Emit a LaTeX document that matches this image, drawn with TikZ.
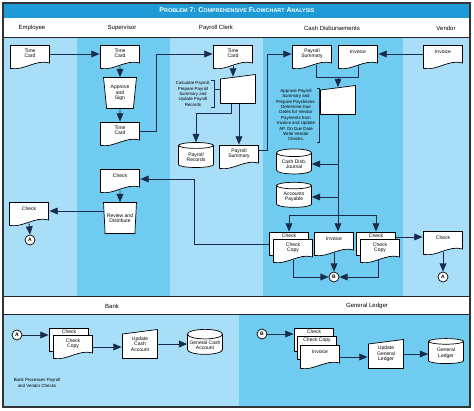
\documentclass[tikz,border=0pt]{standalone}
\usepackage{fontspec}
\setmainfont{Liberation Sans}
\usepackage{tikz}
\usepackage{xcolor}
\usetikzlibrary{arrows,shapes.geometric}

\definecolor{lanelight}{RGB}{168,222,247}
\definecolor{lanedark}{RGB}{112,203,241}
\definecolor{titleblue}{RGB}{30,155,215}
\definecolor{flowline}{RGB}{25,45,75}

\newcommand{\boxfont}{\fontsize{5}{5.5}\selectfont}
\newcommand{\notefont}{\fontsize{4.4}{5.4}\selectfont}
\newcommand{\headfont}{\fontsize{6}{7}\selectfont}
\newcommand{\capsmall}[1]{{\fontsize{5.4}{6}\selectfont #1}}

\begin{document}
\begin{tikzpicture}[x=1pt,y=-1pt,line width=0.9pt,
    docbox/.style={rectangle,minimum width=40pt,minimum height=24pt,inner sep=1pt,align=center,font=\boxfont,text depth=#1,
      path picture={
        \draw [draw=black,fill=white,line width=0.7pt]
          ([xshift=0.5pt,yshift=-0.5pt]path picture bounding box.north west)
          -- ([xshift=-0.5pt,yshift=-0.5pt]path picture bounding box.north east)
          -- ([xshift=-0.5pt,yshift=6pt]path picture bounding box.south east)
          .. controls ([xshift=-14pt,yshift=10pt]path picture bounding box.south east)
          and ([xshift=14pt,yshift=-2pt]path picture bounding box.south west)
          .. ([xshift=0.5pt,yshift=0.6pt]path picture bounding box.south west) -- cycle;
      }},
    docbox/.default=11pt,
    slantbox/.style={rectangle,minimum width=36pt,minimum height=30pt,inner sep=1pt,align=center,font=\boxfont,
      path picture={
        \draw [draw=black,fill=white,line width=0.7pt]
          ([xshift=0.5pt,yshift=-5pt]path picture bounding box.north west)
          -- ([xshift=-0.5pt,yshift=-0.5pt]path picture bounding box.north east)
          -- ([xshift=-0.5pt,yshift=0.5pt]path picture bounding box.south east)
          -- ([xshift=0.5pt,yshift=0.5pt]path picture bounding box.south west) -- cycle;
      }},
    trapbox/.style={trapezium,shape border rotate=180,trapezium left angle=82,trapezium right angle=82,trapezium stretches=true,
      minimum width=33pt,minimum height=31pt,inner sep=0.5pt,align=center,font=\boxfont,draw=black,fill=white,line width=0.7pt},
    store/.style={cylinder,shape border rotate=90,aspect=0.3,minimum width=35pt,minimum height=25pt,inner sep=0.5pt,
      align=center,font=\boxfont,draw=black,fill=white,line width=0.7pt},
    conn/.style={circle,draw=black,fill=white,minimum size=10pt,inner sep=0pt,font=\boxfont\bfseries,line width=0.7pt},
    note/.style={align=center,font=\notefont,inner sep=0.5pt},
    head/.style={font=\headfont},
    flow/.style={draw=flowline,line width=0.9pt},
    bracket/.style={draw=flowline,line width=0.6pt}]
      \fill [white] (0,0) rectangle (474,411);
      \useasboundingbox (0,0) rectangle (474,411);

      \fill [titleblue] (3,3) rectangle (470,18);
      \fill [lanelight] (3,38) rectangle (77,297);
      \fill [lanedark] (77,38) rectangle (170,297);
      \fill [lanelight] (170,38) rectangle (263,297);
      \fill [lanedark] (263,38) rectangle (403,297);
      \fill [lanelight] (403,38) rectangle (470,297);
      \fill [lanelight] (3,315) rectangle (239,407);
      \fill [lanedark] (239,315) rectangle (470,407);
      \draw [line width=1pt,black!85] (3,38) -- (470,38);
      \draw [line width=1pt,black!85] (3,297) -- (470,297);
      \draw [line width=1pt,black!85] (3,315) -- (470,315);
      \draw [line width=1.4pt,black!80] (3,3) rectangle (470,407);

      \node [text=white,font=\fontsize{7}{8}\selectfont\bfseries] (title) at (237,10.5)
        {P\capsmall{ROBLEM} 7: C\capsmall{OMPREHENSIVE} F\capsmall{LOWCHART} A\capsmall{NALYSIS}};
      \node [head] (hEmp) at (32,28) {Employee};
      \node [head] (hSup) at (122,28) {Supervisor};
      \node [head] (hPay) at (216,28) {Payroll Clerk};
      \node [head] (hCash) at (332,28) {Cash Disbursements};
      \node [head] (hVend) at (446,28) {Vendor};
      \node [head] (hBank) at (112,306) {Bank};
      \node [head] (hGL) at (367,306) {General Ledger};

      \node [docbox=8pt] (empTC) at (30,57) {Time\\Card};
      \node [docbox=8pt] (supTC) at (120,57) {Time\\Card};
      \node [trapbox] (approve) at (120,93) {Approve\\and\\Sign};
      \node [docbox=8pt] (supTC2) at (120,134) {Time\\Card};
      \node [docbox=8pt] (payTC) at (233,57) {Time\\Card};
      \node [slantbox] (payProc) at (238,89) {};
      \node [note] (payNote) at (193,94) {Calculate Payroll,\\Prepare Payroll\\Summary and\\Update Payroll\\Records};
      \node [store] (payRec) at (196,157) {Payroll\\Records};
      \node [docbox=8pt] (paySum) at (239,157) {Payroll\\Summary};

      \node [docbox=8pt] (cashPS) at (312,57) {Payroll\\Summary};
      \node [docbox] (cashInv) at (358,57) {Invoice};
      \node [docbox] (vendInv) at (443,57) {Invoice};
      \node [slantbox] (cashProc) at (338,100) {};
      \node [note] (cashNote) at (296,115) {Approve Payroll\\Summary and\\Prepare Paychecks.\\Determine Due\\Dates for Vendor\\Payments from\\Invoice and Update\\AP. On Due Date\\Write Vendor\\Checks.};
      \node [store] (cdj) at (294,164) {Cash Disb.\\Journal};
      \node [store] (ap) at (294,197) {Accounts\\Payable};
      \node [docbox=17pt] (chkL) at (289,244) {Check};
      \node [docbox=8pt] (copyL) at (293,251) {Check\\Copy};
      \node [docbox] (cashInv2) at (334,244) {Invoice};
      \node [docbox=17pt] (chkR) at (376,244) {Check};
      \node [docbox=8pt] (copyR) at (380,251) {Check\\Copy};
      \node [docbox] (vendChk) at (443,243) {Check};
      \node [conn] (conA2) at (443,277) {A};
      \node [conn] (conB1) at (334,277) {B};

      \node [docbox] (supChk) at (120,181) {Check};
      \node [trapbox] (review) at (120,218) {Review and\\Distribute};
      \node [docbox] (empChk) at (29,214) {Check};
      \node [conn] (conA1) at (30,240) {A};

      \node [conn] (conA3) at (17,335) {A};
      \node [docbox=17pt] (bankChk) at (69,340) {Check};
      \node [docbox=8pt] (bankCopy) at (73,347) {Check\\Copy};
      \node [slantbox] (updCash) at (140,344) {Update\\Cash\\Account};
      \node [store] (gca) at (205,345) {General Cash\\Account};
      \node [note] (bankNote) at (37,383) {Bank Processes Payroll\\and Vendor Checks};

      \node [conn] (conB2) at (262,334) {B};
      \node [docbox=17pt] (glChk) at (314,340) {Check};
      \node [docbox=17pt] (glCopy) at (317,348) {Check Copy};
      \node [docbox] (glInv) at (320,357) {Invoice};
      \node [slantbox] (updGL) at (386,354) {Update\\General\\Ledger};
      \node [store] (gl) at (446,353) {General\\Ledger};

      \draw [flow,-triangle 45] ([yshift=3pt]empTC.east) -- ([yshift=3pt]supTC.west);
      \draw [flow,-triangle 45] ([yshift=3pt]supTC.south) -- (approve.north);
      \draw [flow,-triangle 45] (approve.south) -- (supTC2.north);
      \draw [flow,-triangle 45] ([yshift=3pt]supTC2.east) -- ++(16,0) |- ([yshift=3pt]payTC.west);
      \draw [flow,-triangle 45] ([yshift=3pt]payTC.south) -- ([yshift=-3pt]payTC.south |- payProc.north);
      \draw [bracket] (payNote.north east) -- ++(3,0) |- (payNote.south east);
      \draw [bracket] ([xshift=3pt]payProc.west -| payNote.east) -- (payProc.west);
      \draw [flow,-triangle 45] ([xshift=-7pt]payProc.south) -- ++(0,9) -| (payRec.north);
      \draw [flow,-triangle 45] (payProc.south -| paySum.north) -- (paySum.north);
      \draw [flow,-triangle 45] ([yshift=7pt]paySum.east) -- ++(8,0) |- ([yshift=3pt]cashPS.west);

      \draw [flow,-triangle 45] ([yshift=3pt]vendInv.west) -- ([yshift=3pt]cashInv.east);
      \draw [flow] ([xshift=4pt,yshift=4pt]cashPS.south) |- ([yshift=-8pt]cashInv.south) -- ([yshift=4pt]cashInv.south);
      \coordinate (joinPS) at ([yshift=-8pt]cashInv.south -| cashProc.north);
      \draw [flow,-triangle 45] (joinPS) -- ([yshift=-2.5pt]cashProc.north);
      \draw [bracket] (cashNote.north east) -- ++(3,0) |- (cashNote.south east);
      \draw [bracket] ([xshift=3pt]cashProc.west -| cashNote.east) -- (cashProc.west);
      \draw [flow,-triangle 45] (cashProc.south) -- (cashProc.south |- cashInv2.north);
      \draw [flow,-triangle 45] (cashProc.south |- cdj.east) -- (cdj.east);
      \draw [flow,-triangle 45] (cashProc.south |- ap.east) -- (ap.east);
      \coordinate (split) at ([yshift=16pt]chkL.north -| cashProc.south);
      \draw [flow,-triangle 45] (split) -| (chkL.north);
      \draw [flow,-triangle 45] (split) -| (chkR.north);
      \draw [flow,-triangle 45] ([yshift=7pt]chkR.east) -- ([yshift=7pt]chkR.east -| vendChk.west);
      \draw [flow,-triangle 45] ([yshift=3pt]vendChk.south) -- (conA2.north);
      \draw [flow,-triangle 45] ([yshift=3pt]copyL.south) |- (conB1.west);
      \draw [flow,-triangle 45] ([xshift=-2pt,yshift=3pt]copyR.south) |- (conB1.east);
      \draw [flow,-triangle 45] ([yshift=3pt]cashInv2.south) -- (conB1.north);

      \draw [flow,-triangle 45] (chkL.west) -- ++(-74,0) |- ([yshift=2pt]supChk.east);
      \draw [flow,-triangle 45] ([yshift=3pt]supChk.south) -- (review.north);
      \draw [flow,-triangle 45] ([yshift=7pt]review.west) -- ([yshift=7pt]review.west -| empChk.east);
      \draw [flow,-triangle 45] ([yshift=3pt]empChk.south) -- (conA1.north);

      \draw [flow,-triangle 45] (conA3.east) -- (conA3.east -| bankChk.west);
      \draw [flow,-triangle 45] (bankCopy.east) -- (bankCopy.east -| updCash.west);
      \draw [flow,-triangle 45] (updCash.east) -- (updCash.east -| gca.west);
      \draw [flow,-triangle 45] (conB2.east) -- (conB2.east -| glChk.west);
      \draw [flow,-triangle 45] (glInv.east) -- (glInv.east -| updGL.west);
      \draw [flow,-triangle 45] (updGL.east) -- (updGL.east -| gl.west);
\end{tikzpicture}
\end{document}
